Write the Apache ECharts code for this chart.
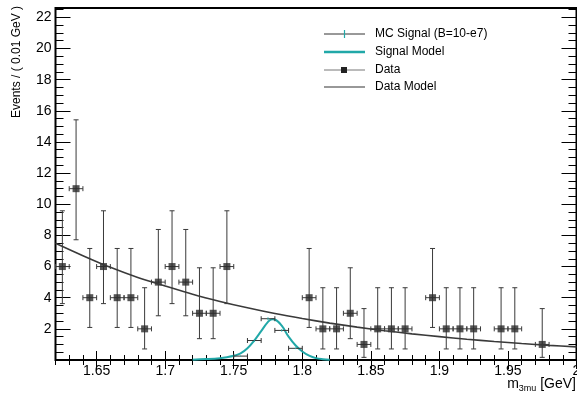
<!DOCTYPE html>
<html>
<head>
<meta charset="utf-8">
<script src="https://cdn.jsdelivr.net/npm/echarts@6/dist/echarts.min.js"></script>
<style>
  html, body { margin: 0; padding: 0; background: #fff; }
  #chart { width: 577px; height: 393px; }
</style>
</head>
<body>
<div id="chart"></div>
<script>
// ---- Data: 3-muon invariant mass, 0.01 GeV bins ----
const dataMass = [1.625, 1.635, 1.645, 1.655, 1.665, 1.675, 1.685, 1.695, 1.705, 1.715, 1.725, 1.735, 1.745,
                  1.805, 1.815, 1.825, 1.835, 1.845, 1.855, 1.865, 1.875, 1.895, 1.905, 1.915, 1.925, 1.945, 1.955, 1.975];
const dataCounts = [6, 11, 4, 6, 4, 4, 2, 5, 6, 5, 3, 3, 6,
                    4, 2, 2, 3, 1, 2, 2, 2, 4, 2, 2, 2, 2, 2, 1];
// asymmetric Poisson errors (down / up)
const dataErrDown = [2.38, 3.28, 1.91, 2.38, 1.91, 1.91, 1.29, 2.16, 2.38, 2.16, 1.63, 1.63, 2.38,
                     1.91, 1.29, 1.29, 1.63, 0.83, 1.29, 1.29, 1.29, 1.91, 1.29, 1.29, 1.29, 1.29, 1.29, 0.83];
const dataErrUp = [3.58, 4.42, 3.16, 3.58, 3.16, 3.16, 2.64, 3.38, 3.58, 3.38, 2.92, 2.92, 3.58,
                   3.16, 2.64, 2.64, 2.92, 2.30, 2.64, 2.64, 2.64, 3.16, 2.64, 2.64, 2.64, 2.64, 2.64, 2.30];
const binHalfWidth = 0.005;

// MC signal histogram (scaled to B = 1e-7)
const mcMass = [1.755, 1.765, 1.775, 1.785, 1.795];
const mcYield = [0.25, 1.25, 2.65, 1.90, 0.75];
const mcErr = [0.03, 0.06, 0.09, 0.08, 0.05];

// Signal model curve
const sigMass = [1.720, 1.730, 1.740, 1.745, 1.750, 1.755, 1.760, 1.765, 1.770, 1.775, 1.778,
                 1.780, 1.785, 1.790, 1.795, 1.800, 1.805, 1.810, 1.815, 1.820];
const sigValue = [0.02, 0.06, 0.12, 0.18, 0.27, 0.42, 0.75, 1.25, 1.85, 2.45, 2.62,
                  2.60, 2.20, 1.50, 0.95, 0.55, 0.28, 0.12, 0.05, 0.02];

// Background (data) model curve
const bkgMass = [1.62, 1.64, 1.66, 1.68, 1.70, 1.72, 1.74, 1.76, 1.78, 1.80,
                 1.82, 1.84, 1.86, 1.88, 1.90, 1.92, 1.94, 1.96, 1.98, 2.00];
const bkgValue = [7.50, 6.70, 5.95, 5.30, 4.75, 4.22, 3.76, 3.35, 2.98, 2.66,
                  2.37, 2.11, 1.88, 1.68, 1.50, 1.33, 1.19, 1.06, 0.94, 0.84];

// Axis ticks
const xMajorTicks = [1.65, 1.7, 1.75, 1.8, 1.85, 1.9, 1.95, 2.0];
const xTickLabels = ['1.65', '1.7', '1.75', '1.8', '1.85', '1.9', '1.95', '2'];
const yMajorTicks = [2, 4, 6, 8, 10, 12, 14, 16, 18, 20, 22];
const yTickLabels = ['2', '4', '6', '8', '10', '12', '14', '16', '18', '20', '22'];

const legendNames = ['MC Signal (B=10-e7)', 'Signal Model', 'Data', 'Data Model'];
const xTitle = '{m|m}{s|3mu}{m| [GeV]}';
const yTitle = 'Events / ( 0.01 GeV )';

// ---- Layout / style ----
const X_MIN = 1.62, X_MAX = 2.0, Y_MIN = 0, Y_MAX = 22.6;
const FONT = 'Liberation Sans';
const TEAL = '#21a8a8';
const DARK = '#333333';

const xMinorTicks = [];
for (let i = 0; i <= 38; i++) xMinorTicks.push(Math.round((X_MIN + i * 0.01) * 1000) / 1000);
const yMinorTicks = [];
for (let i = 0; i <= 45; i++) yMinorTicks.push(i * 0.5);

const chart = echarts.init(document.getElementById('chart'), null, { renderer: 'canvas' });

function xAxisDef(position, ticks, len, withLabels) {
  const a = {
    type: 'value', position: position, min: X_MIN, max: X_MAX,
    axisLine: { show: false },
    splitLine: { show: false },
    axisTick: { show: true, inside: true, length: len, customValues: ticks,
                lineStyle: { color: '#000', width: 1 } },
    axisLabel: { show: false }
  };
  if (withLabels) {
    a.axisLabel = {
      show: true, customValues: xMajorTicks, margin: 4,
      formatter: v => xTickLabels[xMajorTicks.findIndex(t => Math.abs(t - v) < 1e-6)],
      fontFamily: FONT, fontSize: 14, color: '#000'
    };
  }
  return a;
}

function yAxisDef(position, ticks, len, withLabels) {
  const a = {
    type: 'value', position: position, min: Y_MIN, max: Y_MAX,
    axisLine: { show: false },
    splitLine: { show: false },
    axisTick: { show: true, inside: true, length: len, customValues: ticks,
                lineStyle: { color: '#000', width: 1 } },
    axisLabel: { show: false }
  };
  if (withLabels) {
    a.axisLabel = {
      show: true, customValues: yMajorTicks, margin: 4,
      formatter: v => yTickLabels[yMajorTicks.findIndex(t => Math.abs(t - v) < 1e-6)],
      fontFamily: FONT, fontSize: 14, color: '#000'
    };
  }
  return a;
}

// error bar rendering (vertical + horizontal with end caps)
function errorBarItem(params, api, color, vColor, cap) {
  const x = api.value(0), y = api.value(1), lo = api.value(2), hi = api.value(3);
  const c = api.coord([x, y]);
  const pLo = api.coord([x, lo]);
  const pHi = api.coord([x, hi]);
  const pL = api.coord([x - binHalfWidth, y]);
  const pR = api.coord([x + binHalfWidth, y]);
  const hStyle = { stroke: color, lineWidth: 1, fill: null };
  const vStyle = { stroke: vColor, lineWidth: 1, fill: null };
  const ch = [
    { type: 'line', shape: { x1: pL[0], y1: c[1], x2: pR[0], y2: c[1] }, style: hStyle },
    { type: 'line', shape: { x1: pL[0], y1: c[1] - cap, x2: pL[0], y2: c[1] + cap }, style: hStyle },
    { type: 'line', shape: { x1: pR[0], y1: c[1] - cap, x2: pR[0], y2: c[1] + cap }, style: hStyle },
    { type: 'line', shape: { x1: c[0], y1: pLo[1], x2: c[0], y2: pHi[1] }, style: vStyle }
  ];
  if (Math.abs(pLo[1] - pHi[1]) > 2 * cap) {
    ch.push({ type: 'line', shape: { x1: c[0] - cap, y1: pLo[1], x2: c[0] + cap, y2: pLo[1] }, style: vStyle });
    ch.push({ type: 'line', shape: { x1: c[0] - cap, y1: pHi[1], x2: c[0] + cap, y2: pHi[1] }, style: vStyle });
  }
  return { type: 'group', children: ch };
}

const dataBars = dataMass.map((m, i) => [m, dataCounts[i], dataCounts[i] - dataErrDown[i], dataCounts[i] + dataErrUp[i]]);
const mcBars = mcMass.map((m, i) => [m, mcYield[i], mcYield[i] - mcErr[i], mcYield[i] + mcErr[i]]);

// legend and axis titles drawn as graphic elements
const LG_X1 = 324, LG_X2 = 365, LG_TX = 375;
const LG_Y = [34, 52, 70, 87];
const graphics = [];
graphics.push({ type: 'line', shape: { x1: LG_X1, y1: LG_Y[0], x2: LG_X2, y2: LG_Y[0] }, style: { stroke: DARK, lineWidth: 1 } });
graphics.push({ type: 'line', shape: { x1: 344.5, y1: LG_Y[0] - 4, x2: 344.5, y2: LG_Y[0] + 4 }, style: { stroke: TEAL, lineWidth: 1.2 } });
graphics.push({ type: 'line', shape: { x1: LG_X1, y1: LG_Y[1], x2: LG_X2, y2: LG_Y[1] }, style: { stroke: TEAL, lineWidth: 2.5 } });
graphics.push({ type: 'line', shape: { x1: LG_X1, y1: LG_Y[2], x2: LG_X2, y2: LG_Y[2] }, style: { stroke: '#777', lineWidth: 1 } });
graphics.push({ type: 'rect', shape: { x: 341, y: LG_Y[2] - 3, width: 6, height: 6 }, style: { fill: '#222' } });
graphics.push({ type: 'line', shape: { x1: LG_X1, y1: LG_Y[3], x2: LG_X2, y2: LG_Y[3] }, style: { stroke: DARK, lineWidth: 1.2 } });
legendNames.forEach((n, i) => {
  graphics.push({ type: 'text', x: LG_TX, y: LG_Y[i],
    style: { text: n, fontFamily: FONT, fontSize: 12, fill: '#000', textVerticalAlign: 'middle' } });
});
graphics.push({ type: 'text', x: 17, y: 6, rotation: Math.PI / 2,
  style: { text: yTitle, fontFamily: FONT, fontSize: 12, fill: '#000', textAlign: 'right', textVerticalAlign: 'middle' } });
graphics.push({ type: 'text', x: 576, y: 376,
  style: { text: xTitle, textAlign: 'right', textVerticalAlign: 'top',
    rich: {
      m: { fontFamily: FONT, fontSize: 14, fill: '#000', lineHeight: 16 },
      s: { fontFamily: FONT, fontSize: 9, fill: '#000', lineHeight: 16, padding: [10, 0, 0, 0] }
    } } });

const option = {
  animation: false,
  backgroundColor: '#fff',
  grid: { left: 55.5, right: 0.5, top: 8, bottom: 33, containLabel: false, outerBoundsMode: 'none',
          show: true, borderColor: '#000', borderWidth: 2, backgroundColor: 'transparent' },
  xAxis: [
    xAxisDef('bottom', xMajorTicks, 9, true),
    xAxisDef('bottom', xMinorTicks, 5, false),
    xAxisDef('top', xMajorTicks, 9, false),
    xAxisDef('top', xMinorTicks, 5, false)
  ],
  yAxis: [
    yAxisDef('left', yMajorTicks, 15, true),
    yAxisDef('left', yMinorTicks, 8, false),
    yAxisDef('right', yMajorTicks, 15, false),
    yAxisDef('right', yMinorTicks, 8, false)
  ],
  graphic: graphics,
  series: [
    {
      name: 'Signal Model', type: 'line', data: sigMass.map((m, i) => [m, sigValue[i]]),
      smooth: 0.4, showSymbol: false, lineStyle: { color: TEAL, width: 2 }, z: 3
    },
    {
      name: 'MC Signal (B=10-e7)', type: 'custom', data: mcBars,
      renderItem: (p, api) => errorBarItem(p, api, DARK, TEAL, 2.5), z: 4
    },
    {
      name: 'Data', type: 'custom', data: dataBars,
      renderItem: (p, api) => errorBarItem(p, api, '#3a3a3a', '#3a3a3a', 2.5), z: 5
    },
    {
      name: 'Data', type: 'scatter', data: dataMass.map((m, i) => [m, dataCounts[i]]),
      symbol: 'rect', symbolSize: 7, itemStyle: { color: '#2a2a2a' }, z: 6
    },
    {
      name: 'Data Model', type: 'line', data: bkgMass.map((m, i) => [m, bkgValue[i]]),
      smooth: 0.3, showSymbol: false, lineStyle: { color: '#3a3a3a', width: 1.6 }, z: 7
    }
  ]
};
chart.setOption(option);
</script>
</body>
</html>
